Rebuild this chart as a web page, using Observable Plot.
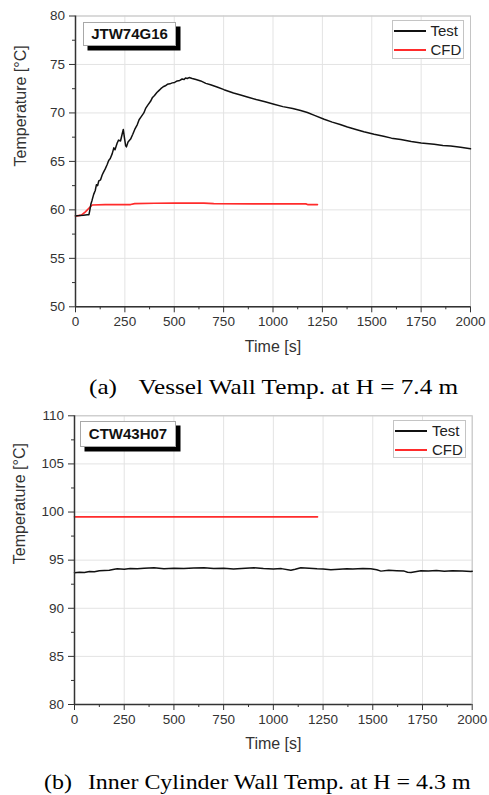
<!DOCTYPE html>
<html>
<head>
<meta charset="utf-8">
<script src="https://cdn.jsdelivr.net/npm/d3@7"></script>
<script src="https://cdn.jsdelivr.net/npm/@observablehq/plot@0.6"></script>
<style>
  html, body { margin: 0; padding: 0; background: #fff; }
  #wrap { position: relative; width: 489px; height: 795px; overflow: hidden; background: #fff; }
  .chart { position: absolute; left: 0; }
  .caption { position: absolute; font-family: "Liberation Serif", "Times New Roman", serif; font-size: 21px; line-height: 24px; white-space: pre; color: #000; transform-origin: left center; }
  .tag { position: absolute; background: #fff; border: 1px solid #a8a8a8; box-sizing: border-box; box-shadow: 4.5px 4.5px 0 #000; font-family: "Liberation Sans", Arial, sans-serif; font-weight: bold; font-size: 15px; color: #111; text-align: center; }
  .legend { position: absolute; background: #fff; border: 1px solid #c4c4c4; box-sizing: border-box; font-family: "Liberation Sans", Arial, sans-serif; font-size: 15px; color: #222; }
  .legend .row { position: absolute; left: 0; height: 18px; width: 100%; }
  .legend .sw { position: absolute; left: 1px; top: 8px; width: 32px; height: 2px; }
  .legend .lb { position: absolute; left: 38px; top: 0; line-height: 18px; }
</style>
</head>
<body>
<div id="wrap"></div>
<script>
// ---------- data ----------
const xTicks = [0, 250, 500, 750, 1000, 1250, 1500, 1750, 2000];
const xMinor = [125, 375, 625, 875, 1125, 1375, 1625, 1875];
const yTicksA = [50, 55, 60, 65, 70, 75, 80];
const yMinorA = [52.5, 57.5, 62.5, 67.5, 72.5, 77.5];
const yTicksB = [80, 85, 90, 95, 100, 105, 110];
const yMinorB = [82.5, 87.5, 92.5, 97.5, 102.5, 107.5];
const seriesNames = ["Test", "CFD"];
const tagA = "JTW74G16";
const tagB = "CTW43H07";
const captionA = ["(a)", "Vessel Wall Temp. at H = 7.4 m"];
const captionB = ["(b)", "Inner Cylinder Wall Temp. at H = 4.3 m"];

// (a) Vessel wall, Test
const testA_t = [0,20,40,60,68,72,78,84,92,100,106,112,118,127,135,142,150,161,168,176,186,194,200,211,218,228,236,242,248,254,258,266,279,290,300,313,322,332,346,356,366,380,390,400,412,422,432,444,455,465,478,490,502,515,528,540,550,557,566,575,591,610,634,660,684,720,752,800,836,870,920,960,1005,1050,1100,1140,1174,1210,1259,1300,1340,1377,1420,1460,1512,1560,1600,1647,1700,1750,1816,1860,1900,1950,2000];
const testA_v = [59.4,59.42,59.45,59.5,59.5,59.9,60.6,61.0,61.6,62.0,62.6,62.5,63.0,63.1,63.6,63.9,64.2,64.7,65.1,65.3,65.8,66.4,66.2,66.9,67.2,67.1,67.8,68.3,67.4,66.6,66.5,67.0,67.3,67.8,68.3,68.8,69.3,69.6,70.0,70.5,70.8,71.2,71.6,71.8,72.1,72.3,72.5,72.7,72.8,72.95,73.0,73.1,73.15,73.3,73.35,73.5,73.45,73.6,73.55,73.65,73.55,73.45,73.3,73.05,72.9,72.65,72.4,72.05,71.85,71.65,71.35,71.15,70.9,70.65,70.45,70.25,70.05,69.75,69.35,69.05,68.8,68.55,68.3,68.05,67.8,67.6,67.4,67.25,67.05,66.9,66.78,66.65,66.6,66.45,66.3];
// (a) Vessel wall, CFD
const cfdA_t = [0,30,50,84,150,279,300,400,500,650,700,900,1166,1175,1225];
const cfdA_v = [59.35,59.45,59.8,60.5,60.55,60.55,60.65,60.68,60.7,60.7,60.65,60.62,60.62,60.55,60.55];

// (b) Inner cylinder wall, Test
const testB_t = [0,25,50,75,100,125,150,175,200,215,250,280,316,350,400,450,500,550,600,651,700,750,800,819,860,903,950,1000,1040,1088,1110,1138,1180,1220,1250,1289,1330,1370,1400,1450,1490,1520,1541,1580,1620,1658,1675,1692,1742,1780,1820,1860,1900,1950,1994,2000];
const testB_v = [93.7,93.75,93.72,93.83,93.8,93.9,93.93,93.95,94.05,94.1,94.05,94.12,94.1,94.15,94.2,94.1,94.15,94.12,94.18,94.2,94.12,94.15,94.08,94.1,94.15,94.2,94.12,94.08,94.12,93.95,94.05,94.2,94.15,94.1,94.08,94.0,94.05,94.1,94.08,94.12,94.1,94.0,93.86,93.95,93.9,93.86,93.75,93.72,93.9,93.88,93.92,93.85,93.9,93.88,93.83,93.85];
// (b) Inner cylinder wall, CFD
const cfdB_t = [0, 1222];
const cfdB_v = [99.5, 99.5];

const colors = {Test: "#111111", CFD: "#ff2b2b"};

// ---------- build ----------
const toRows = (ts, vs) => ts.map((t, i) => ({t, v: vs[i]}));
const wrap = document.getElementById("wrap");

function makeChart({top, height, mTop, mBottom, mLeft, mRight, yDomain, yTicks, yMinor, test, cfd, xLabDy, yLabDy}) {
  const fontFamily = '"Liberation Sans", Arial, sans-serif';
  const svg = Plot.plot({
    width: 489,
    height,
    marginTop: mTop,
    marginBottom: mBottom,
    marginLeft: mLeft,
    marginRight: mRight,
    style: {fontFamily, color: "#333", background: "transparent", overflow: "visible"},
    x: {domain: [0, 2000]},
    y: {domain: yDomain},
    marks: [
      Plot.gridX(xTicks, {stroke: "#e3e3e3", strokeOpacity: 1, strokeWidth: 1}),
      Plot.gridY(yTicks, {stroke: "#e3e3e3", strokeOpacity: 1, strokeWidth: 1}),
      Plot.frame({stroke: "#c4c4c4", strokeWidth: 1}),
      Plot.line(toRows(cfd[0], cfd[1]), {x: "t", y: "v", stroke: colors.CFD, strokeWidth: 1.7}),
      Plot.line(toRows(test[0], test[1]), {x: "t", y: "v", stroke: colors.Test, strokeWidth: 1.5}),
      Plot.ruleY([yDomain[0]], {stroke: "#333", strokeWidth: 1.5}),
      Plot.ruleX([0], {stroke: "#333", strokeWidth: 1.5}),
      Plot.axisX(xTicks, {tickSize: 6, tickPadding: 4, fontSize: 13.5, tickFormat: d => String(d), label: null, stroke: "#333"}),
      Plot.axisX(xMinor, {tickSize: 3, tickFormat: () => "", label: null, stroke: "#333"}),
      Plot.axisY(yTicks, {tickSize: 6, tickPadding: 4.5, fontSize: 13.5, tickFormat: d => String(d), label: null, stroke: "#333"}),
      Plot.axisY(yMinor, {tickSize: 3, tickFormat: () => "", label: null, stroke: "#333"}),
      Plot.text(["Time [s]"], {frameAnchor: "bottom", dy: xLabDy, fontSize: 16, fill: "#333"}),
      Plot.text(["Temperature [°C]"], {frameAnchor: "left", dx: -55, dy: yLabDy, rotate: -90, fontSize: 16, fill: "#333"})
    ]
  });
  const div = document.createElement("div");
  div.className = "chart";
  div.style.top = top + "px";
  div.appendChild(svg);
  wrap.appendChild(div);
}

function addTag(text, left, top, w, h) {
  const d = document.createElement("div");
  d.className = "tag";
  Object.assign(d.style, {left: left + "px", top: top + "px", width: w + "px", height: h + "px", lineHeight: (h - 2) + "px"});
  d.textContent = text;
  wrap.appendChild(d);
}

function addLegend(left, top, w, h, rowTops) {
  const d = document.createElement("div");
  d.className = "legend";
  Object.assign(d.style, {left: left + "px", top: top + "px", width: w + "px", height: h + "px"});
  seriesNames.forEach((name, i) => {
    const r = document.createElement("div");
    r.className = "row";
    r.style.top = rowTops[i] + "px";
    const sw = document.createElement("div");
    sw.className = "sw";
    sw.style.background = colors[name];
    const lb = document.createElement("div");
    lb.className = "lb";
    lb.textContent = name;
    r.appendChild(sw); r.appendChild(lb);
    d.appendChild(r);
  });
  wrap.appendChild(d);
}

function addCaption(parts, left, top, gap, scale) {
  const d = document.createElement("div");
  d.className = "caption";
  Object.assign(d.style, {left: left + "px", top: top + "px", transform: `scaleX(${scale})`});
  const a = document.createElement("span");
  a.textContent = parts[0];
  const b = document.createElement("span");
  b.textContent = parts[1];
  b.style.marginLeft = gap + "px";
  d.appendChild(a); d.appendChild(b);
  wrap.appendChild(d);
}

// chart (a)
makeChart({top: 0, height: 370, mTop: 15.5, mBottom: 63.7, mLeft: 75, mRight: 19,
  yDomain: [50, 80], yTicks: yTicksA, yMinor: yMinorA,
  test: [testA_t, testA_v], cfd: [cfdA_t, cfdA_v], xLabDy: 45, yLabDy: 5});
addTag(tagA, 83, 21.5, 93, 24);
addLegend(391.5, 20, 72, 38.5, [1, 20]);
addCaption(captionA, 89, 375, 18, 1.2);

// chart (b)
makeChart({top: 400, height: 365, mTop: 15.3, mBottom: 61, mLeft: 74, mRight: 17.3,
  yDomain: [80, 110], yTicks: yTicksB, yMinor: yMinorB,
  test: [testB_t, testB_v], cfd: [cfdB_t, cfdB_v], xLabDy: 44, yLabDy: 4});
addTag(tagB, 80, 420.5, 96, 26);
addLegend(393, 420, 72.5, 38, [1, 20]);
addCaption(captionB, 44, 770, 14, 1.14);
</script>
</body>
</html>
